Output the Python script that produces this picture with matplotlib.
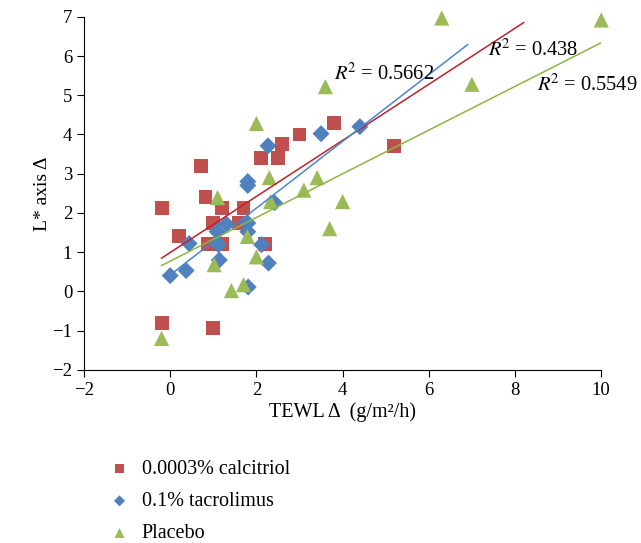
import matplotlib
matplotlib.use("Agg")
import matplotlib.pyplot as plt
import numpy as np

plt.rcParams['font.family'] = ['Liberation Serif', 'DejaVu Serif']
plt.rcParams['mathtext.fontset'] = 'stix'

# 0.0003% calcitriol
calc_x = [-0.2, 0.2, 0.72, 0.82, 0.88, 1.2, 1.0, 1.2, 1.7, 1.6, 2.1, 2.2, 2.5, 2.6, 3.0, 3.8, 5.2, -0.2, 1.0]
calc_y = [2.13, 1.42, 3.2, 2.4, 1.2, 1.2, 1.74, 2.13, 2.13, 1.74, 3.4, 1.2, 3.4, 3.76, 4.0, 4.3, 3.7, -0.8, -0.93]

# 0.1% tacrolimus
tac_x = [0.0, 0.37, 0.44, 1.12, 1.14, 1.81, 2.12, 2.28, 1.8, 1.8, 2.27, 1.09, 1.3, 1.8, 1.8, 3.5, 4.4, 2.42]
tac_y = [0.4, 0.53, 1.22, 1.19, 0.8, 0.11, 1.19, 0.72, 2.8, 2.7, 3.71, 1.52, 1.72, 1.74, 1.52, 4.02, 4.2, 2.26]

# placebo
plac_x = [-0.2, 1.02, 1.1, 1.42, 1.7, 1.79, 2.0, 2.0, 2.3, 2.33, 3.1, 3.41, 3.6, 3.7, 4.0, 6.3, 7.0, 10.0]
plac_y = [-1.2, 0.68, 2.39, 0.02, 0.17, 1.4, 0.88, 4.28, 2.9, 2.29, 2.58, 2.9, 5.22, 1.6, 2.29, 6.97, 5.28, 6.92]

# trendlines as drawn in the figure (slope, intercept) and R^2 labels
trend_slope = [0.715, 0.851, 0.557]
trend_icpt = [0.99, 0.42, 0.77]
r2_labels = ['0.438', '0.5662', '0.5549']

fig = plt.figure(figsize=(6.41, 5.43), dpi=100)
ax = fig.add_axes([0.131, 0.319, 0.807, 0.650])

series = [
    (calc_x, calc_y, 's', '#C0504D', '#C0202A', 100, '0.0003% calcitriol', (-0.2, 8.2), (7.37, 6.16)),
    (tac_x, tac_y, 'D', '#4F81BD', '#4A86D0', 75, '0.1% tacrolimus', (0.0, 6.9), (3.79, 5.53)),
    (plac_x, plac_y, '^', '#9BBB59', '#8DB543', 120, 'Placebo', (-0.2, 10.0), (8.51, 5.27)),
]

handles = []
for i, (xs, ys, mk, col, lcol, sz, lab, xr, tpos) in enumerate(series):
    h = ax.scatter(xs, ys, marker=mk, s=sz, color=col, edgecolors='none', label=lab,
                   zorder=3, clip_on=False)
    handles.append(h)
    xx = np.array(xr)
    ax.plot(xx, trend_slope[i] * xx + trend_icpt[i], color=lcol, lw=1.1, zorder=4)
    ax.text(tpos[0], tpos[1], r'$R^{\!2}$ = ' + r2_labels[i], fontsize=14.8,
            ha='left', va='center', zorder=5)

ax.set_xlim(-2, 10)
ax.set_ylim(-2, 7)
ax.set_xticks(range(-2, 11, 2))
ax.set_yticks(range(-2, 8))
ax.set_xticklabels(['\u22122', '0', '2', '4', '6', '8', '10'])
ax.set_yticklabels(['\u22122', '\u22121', '0', '1', '2', '3', '4', '5', '6', '7'])
ax.spines['top'].set_visible(False)
ax.spines['right'].set_visible(False)
ax.tick_params(direction='out', length=5, labelsize=13.5)
ax.set_xlabel('TEWL \u0394  (g/m\u00b2/h)', fontsize=14.5, labelpad=3)
ax.set_ylabel('L* axis \u0394', fontsize=14)
ax.yaxis.set_label_coords(-0.064, 0.5)

fig.legend(handles=handles, loc='upper left', bbox_to_anchor=(0.155, 0.168),
           frameon=False, fontsize=14.5, markerscale=0.65, handletextpad=0.5,
           handlelength=1.2, labelspacing=0.65, borderaxespad=0)

fig.savefig('out.png', dpi=100)
